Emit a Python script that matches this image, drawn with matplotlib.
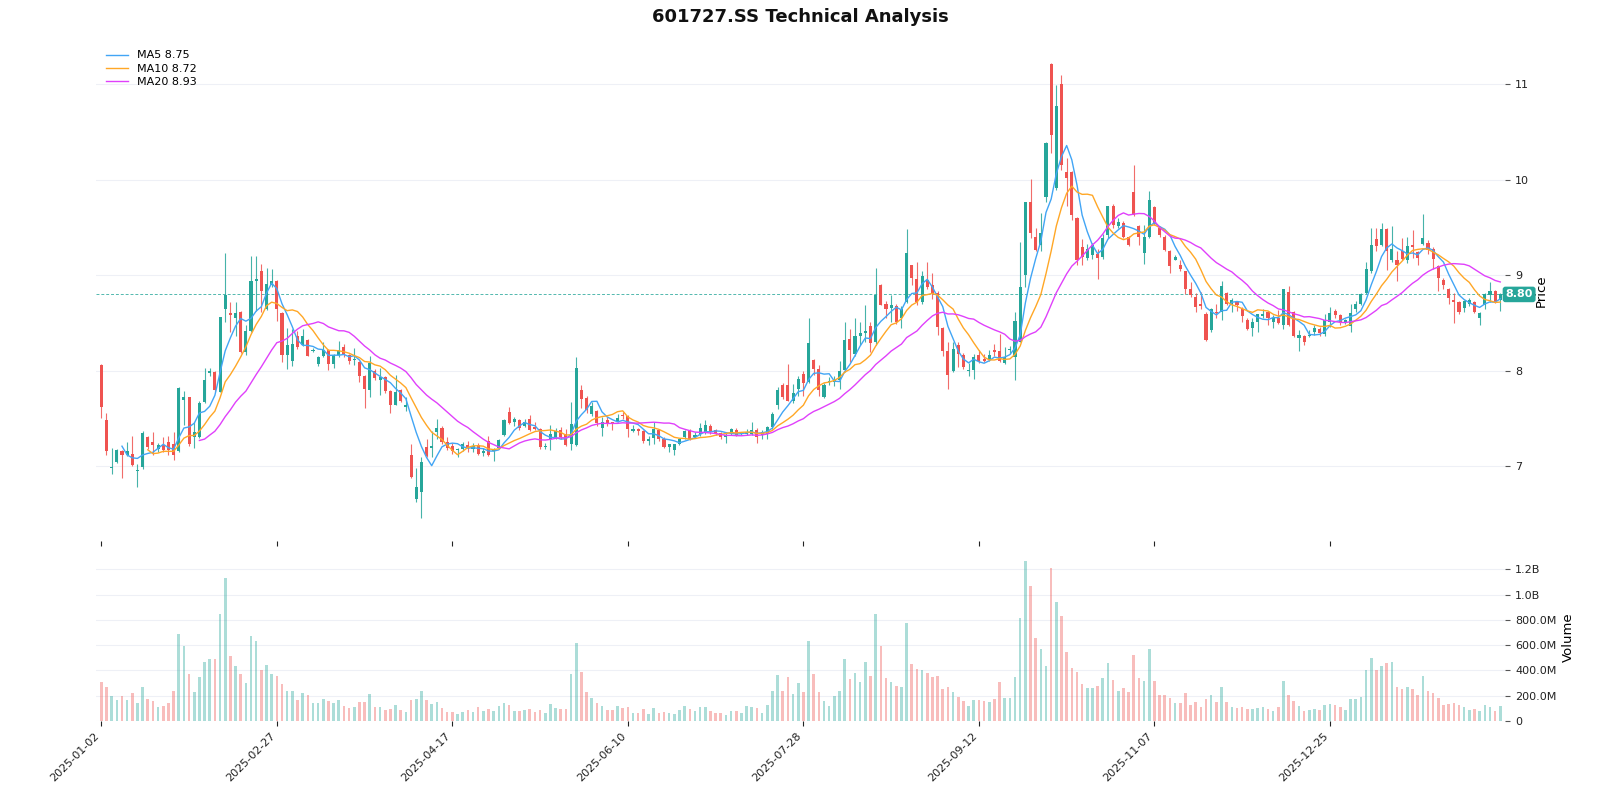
import matplotlib
matplotlib.use("Agg")
import matplotlib.pyplot as plt
import numpy as np
import pandas as pd
from matplotlib.ticker import FuncFormatter

# 601727.SS daily bars (trading days from 2025-01-02)
opens = [
    8.06, 7.49, 6.98, 7.05, 7.16, 7.12, 7.13, 6.95, 6.99, 7.31,
    7.26, 7.18, 7.22, 7.26, 7.24, 7.16, 7.70, 7.73, 7.31, 7.31,
    7.67, 7.98, 7.99, 7.78, 8.65, 8.61, 8.55, 8.62, 8.20, 8.42,
    8.94, 9.04, 8.65, 8.90, 8.94, 8.61, 8.17, 8.10, 8.36, 8.27,
    8.32, 8.21, 8.07, 8.16, 8.22, 8.07, 8.17, 8.25, 8.17, 8.11,
    8.09, 7.95, 7.80, 8.00, 7.90, 7.94, 7.79, 7.64, 7.80, 7.62,
    7.12, 6.66, 6.73, 7.20, 7.19, 7.36, 7.40, 7.26, 7.21, 7.17,
    7.18, 7.22, 7.18, 7.22, 7.14, 7.27, 7.16, 7.19, 7.33, 7.57,
    7.47, 7.49, 7.42, 7.50, 7.41, 7.39, 7.20, 7.29, 7.30, 7.38,
    7.34, 7.23, 7.22, 7.80, 7.72, 7.55, 7.58, 7.40, 7.49, 7.47,
    7.47, 7.54, 7.53, 7.37, 7.39, 7.37, 7.27, 7.30, 7.38, 7.29,
    7.20, 7.17, 7.24, 7.31, 7.38, 7.31, 7.34, 7.36, 7.42, 7.38,
    7.35, 7.31, 7.34, 7.38, 7.34, 7.34, 7.34, 7.38, 7.33, 7.34,
    7.41, 7.64, 7.85, 7.85, 7.68, 7.81, 7.97, 7.88, 8.11, 8.02,
    7.73, 7.88, 7.88, 7.90, 8.01, 8.33, 8.18, 8.37, 8.40, 8.47,
    8.30, 8.90, 8.70, 8.66, 8.68, 8.55, 8.72, 9.11, 8.96, 8.72,
    8.95, 8.90, 8.82, 8.45, 8.21, 8.00, 8.27, 8.17, 8.00, 8.01,
    8.17, 8.12, 8.11, 8.22, 8.21, 8.08, 8.22, 8.15, 8.30, 9.00,
    9.77, 9.40, 9.32, 9.82, 11.21, 9.91, 11.00, 10.08, 10.08, 9.60,
    9.30, 9.18, 9.21, 9.22, 9.19, 9.42, 9.73, 9.52, 9.55, 9.40,
    9.87, 9.52, 9.23, 9.40, 9.71, 9.50, 9.40, 9.25, 9.16, 9.11,
    9.04, 8.86, 8.77, 8.70, 8.59, 8.43, 8.62, 8.62, 8.82, 8.70,
    8.72, 8.65, 8.53, 8.45, 8.51, 8.57, 8.62, 8.51, 8.55, 8.48,
    8.83, 8.62, 8.34, 8.36, 8.36, 8.41, 8.44, 8.39, 8.51, 8.63,
    8.58, 8.51, 8.47, 8.65, 8.70, 8.81, 9.04, 9.38, 9.32, 9.48,
    9.16, 9.16, 9.25, 9.16, 9.32, 9.24, 9.33, 9.34, 9.28, 9.10,
    8.95, 8.86, 8.74, 8.72, 8.66, 8.70, 8.72, 8.55, 8.69, 8.79,
    8.84, 8.74,
]
highs = [
    8.07, 7.56, 7.19, 7.18, 7.17, 7.26, 7.32, 7.03, 7.37, 7.32,
    7.36, 7.25, 7.31, 7.32, 7.36, 7.83, 7.79, 7.73, 7.46, 7.68,
    8.03, 8.03, 8.00, 8.56, 9.23, 8.72, 8.72, 8.63, 8.48, 9.20,
    9.20, 9.12, 9.08, 9.07, 8.95, 8.62, 8.45, 8.44, 8.42, 8.44,
    8.33, 8.24, 8.16, 8.30, 8.23, 8.18, 8.31, 8.28, 8.18, 8.24,
    8.10, 7.96, 8.16, 8.02, 8.03, 7.95, 7.80, 7.96, 7.81, 7.73,
    7.23, 6.98, 7.10, 7.29, 7.37, 7.50, 7.42, 7.31, 7.25, 7.19,
    7.26, 7.27, 7.25, 7.25, 7.19, 7.32, 7.19, 7.29, 7.50, 7.62,
    7.52, 7.50, 7.50, 7.54, 7.47, 7.40, 7.25, 7.43, 7.40, 7.41,
    7.39, 7.67, 8.15, 7.85, 7.74, 7.67, 7.59, 7.52, 7.52, 7.47,
    7.55, 7.57, 7.54, 7.43, 7.40, 7.38, 7.32, 7.46, 7.39, 7.31,
    7.24, 7.24, 7.30, 7.38, 7.39, 7.36, 7.45, 7.49, 7.44, 7.39,
    7.36, 7.36, 7.40, 7.40, 7.36, 7.39, 7.47, 7.40, 7.38, 7.42,
    7.57, 7.83, 7.87, 8.07, 7.86, 7.95, 8.00, 8.55, 8.12, 8.06,
    7.87, 7.94, 7.95, 8.10, 8.51, 8.44, 8.55, 8.51, 8.69, 8.51,
    9.08, 8.91, 8.73, 8.79, 8.70, 8.68, 9.48, 9.11, 9.14, 9.04,
    9.14, 9.02, 8.84, 8.46, 8.30, 8.30, 8.30, 8.19, 8.08, 8.18,
    8.22, 8.18, 8.22, 8.28, 8.39, 8.25, 8.26, 8.62, 9.35, 9.77,
    10.01, 9.49, 9.65, 10.39, 11.22, 10.99, 11.10, 10.23, 10.09, 9.61,
    9.38, 9.33, 9.34, 9.28, 9.43, 9.73, 9.75, 9.60, 9.57, 9.41,
    10.15, 9.53, 9.53, 9.88, 9.72, 9.52, 9.42, 9.26, 9.21, 9.16,
    9.05, 8.93, 8.82, 8.83, 8.62, 8.66, 8.70, 8.94, 8.83, 8.76,
    8.73, 8.67, 8.55, 8.55, 8.60, 8.65, 8.63, 8.58, 8.64, 8.86,
    8.89, 8.63, 8.43, 8.38, 8.43, 8.48, 8.46, 8.59, 8.67, 8.65,
    8.60, 8.54, 8.70, 8.73, 8.81, 9.14, 9.49, 9.49, 9.55, 9.50,
    9.52, 9.25, 9.39, 9.40, 9.47, 9.25, 9.64, 9.37, 9.30, 9.11,
    8.97, 8.87, 8.81, 8.73, 8.74, 8.76, 8.73, 8.62, 8.82, 8.93,
    8.85, 8.81,
]
lows = [
    7.51, 7.12, 6.92, 7.04, 6.88, 7.11, 7.00, 6.79, 6.97, 7.18,
    7.12, 7.15, 7.15, 7.12, 7.07, 7.15, 7.43, 7.21, 7.19, 7.30,
    7.66, 7.95, 7.78, 7.78, 8.51, 8.41, 8.37, 8.19, 8.17, 8.41,
    8.63, 8.62, 8.64, 8.88, 8.52, 8.09, 8.02, 8.05, 8.23, 8.26,
    8.16, 8.20, 8.05, 8.15, 8.01, 8.03, 8.14, 8.15, 8.07, 8.06,
    7.88, 7.61, 7.73, 7.90, 7.75, 7.77, 7.56, 7.64, 7.67, 7.58,
    6.88, 6.63, 6.46, 7.10, 7.10, 7.29, 7.24, 7.17, 7.13, 7.10,
    7.16, 7.15, 7.15, 7.12, 7.11, 7.11, 7.06, 7.18, 7.32, 7.44,
    7.42, 7.38, 7.41, 7.37, 7.38, 7.18, 7.18, 7.17, 7.29, 7.29,
    7.21, 7.17, 7.21, 7.61, 7.56, 7.53, 7.42, 7.32, 7.42, 7.38,
    7.46, 7.50, 7.31, 7.36, 7.33, 7.25, 7.22, 7.24, 7.27, 7.19,
    7.15, 7.12, 7.22, 7.29, 7.28, 7.30, 7.32, 7.34, 7.34, 7.33,
    7.29, 7.25, 7.33, 7.32, 7.33, 7.33, 7.33, 7.25, 7.29, 7.29,
    7.39, 7.60, 7.71, 7.68, 7.66, 7.74, 7.74, 7.87, 7.96, 7.74,
    7.72, 7.85, 7.84, 7.81, 7.99, 8.09, 8.16, 8.27, 8.30, 8.20,
    8.27, 8.69, 8.55, 8.51, 8.49, 8.45, 8.71, 8.90, 8.69, 8.70,
    8.86, 8.75, 8.38, 8.16, 7.81, 7.99, 8.04, 8.02, 7.95, 7.91,
    8.08, 8.09, 8.10, 8.16, 8.09, 8.07, 8.18, 7.90, 8.30, 8.88,
    9.39, 9.25, 9.25, 9.77, 10.28, 9.89, 10.10, 9.72, 9.58, 9.11,
    9.11, 9.16, 9.17, 8.96, 9.17, 9.39, 9.49, 9.49, 9.39, 9.31,
    9.62, 9.32, 9.12, 9.39, 9.53, 9.40, 9.25, 9.02, 9.16, 9.05,
    8.80, 8.77, 8.62, 8.65, 8.31, 8.41, 8.55, 8.53, 8.69, 8.62,
    8.63, 8.51, 8.43, 8.37, 8.41, 8.55, 8.48, 8.45, 8.49, 8.44,
    8.47, 8.35, 8.21, 8.27, 8.35, 8.38, 8.37, 8.36, 8.46, 8.55,
    8.48, 8.49, 8.41, 8.62, 8.69, 8.80, 9.02, 9.25, 9.31, 9.06,
    9.14, 8.94, 9.16, 9.13, 9.18, 9.11, 9.32, 9.22, 9.07, 8.84,
    8.86, 8.70, 8.50, 8.60, 8.62, 8.68, 8.61, 8.48, 8.65, 8.72,
    8.71, 8.63,
]
closes = [
    7.62, 7.16, 6.99, 7.17, 7.12, 7.16, 7.01, 6.96, 7.35, 7.20,
    7.22, 7.22, 7.17, 7.17, 7.12, 7.82, 7.73, 7.23, 7.36, 7.66,
    7.90, 8.00, 7.80, 8.56, 8.79, 8.58, 8.61, 8.20, 8.42, 8.94,
    8.96, 8.84, 8.91, 8.94, 8.65, 8.17, 8.27, 8.28, 8.25, 8.37,
    8.16, 8.22, 8.14, 8.22, 8.07, 8.17, 8.22, 8.18, 8.10, 8.12,
    7.95, 7.81, 8.08, 7.93, 7.94, 7.79, 7.64, 7.78, 7.69, 7.64,
    6.89, 6.78, 7.05, 7.11, 7.21, 7.40, 7.26, 7.19, 7.16, 7.18,
    7.24, 7.19, 7.21, 7.13, 7.16, 7.12, 7.18, 7.28, 7.49, 7.45,
    7.50, 7.40, 7.46, 7.38, 7.39, 7.20, 7.21, 7.34, 7.37, 7.31,
    7.22, 7.44, 8.03, 7.71, 7.59, 7.63, 7.45, 7.47, 7.45, 7.45,
    7.51, 7.53, 7.39, 7.39, 7.37, 7.27, 7.29, 7.39, 7.29, 7.20,
    7.23, 7.23, 7.29, 7.37, 7.29, 7.33, 7.40, 7.43, 7.36, 7.34,
    7.31, 7.33, 7.39, 7.33, 7.35, 7.36, 7.38, 7.31, 7.36, 7.41,
    7.55, 7.80, 7.73, 7.69, 7.77, 7.92, 7.87, 8.29, 8.02, 7.80,
    7.85, 7.89, 7.90, 8.00, 8.32, 8.22, 8.36, 8.40, 8.42, 8.29,
    8.79, 8.69, 8.65, 8.69, 8.51, 8.65, 9.23, 8.97, 8.72, 8.99,
    8.88, 8.82, 8.46, 8.21, 7.96, 8.23, 8.18, 8.04, 8.01, 8.15,
    8.10, 8.10, 8.17, 8.20, 8.10, 8.15, 8.23, 8.52, 8.88, 9.77,
    9.44, 9.26, 9.44, 10.38, 10.47, 10.77, 10.15, 10.02, 9.63, 9.16,
    9.19, 9.28, 9.32, 9.18, 9.39, 9.72, 9.53, 9.56, 9.40, 9.32,
    9.63, 9.40, 9.40, 9.79, 9.54, 9.42, 9.26, 9.10, 9.19, 9.07,
    8.86, 8.79, 8.67, 8.68, 8.32, 8.65, 8.61, 8.89, 8.70, 8.74,
    8.69, 8.57, 8.44, 8.51, 8.59, 8.59, 8.55, 8.55, 8.50, 8.86,
    8.48, 8.37, 8.38, 8.30, 8.38, 8.45, 8.40, 8.53, 8.61, 8.58,
    8.51, 8.53, 8.61, 8.70, 8.80, 9.07, 9.32, 9.31, 9.48, 9.25,
    9.28, 9.11, 9.17, 9.31, 9.30, 9.18, 9.39, 9.26, 9.17, 8.97,
    8.90, 8.76, 8.72, 8.62, 8.73, 8.74, 8.62, 8.61, 8.80, 8.84,
    8.72, 8.80,
]
# volume in millions of shares
volumes_m = [
    311, 271, 194, 167, 194, 167, 223, 143, 271, 175,
    159, 112, 120, 143, 239, 685, 590, 375, 231, 351,
    470, 494, 494, 845, 1131, 518, 438, 375, 303, 669,
    637, 406, 446, 375, 359, 295, 239, 239, 167, 223,
    207, 143, 143, 175, 159, 143, 167, 120, 104, 112,
    151, 151, 215, 112, 112, 88, 96, 127, 88, 72,
    167, 175, 239, 167, 135, 151, 104, 72, 72, 56,
    72, 88, 72, 112, 80, 96, 80, 120, 143, 127,
    80, 80, 88, 96, 72, 88, 64, 135, 104, 96,
    96, 375, 614, 390, 231, 183, 143, 120, 88, 88,
    120, 104, 112, 64, 64, 96, 56, 104, 64, 72,
    64, 56, 88, 120, 96, 80, 112, 112, 80, 64,
    64, 48, 80, 80, 64, 120, 112, 104, 64, 127,
    239, 367, 239, 351, 215, 303, 231, 637, 375, 231,
    159, 120, 199, 239, 494, 335, 382, 311, 470, 359,
    845, 590, 343, 311, 279, 271, 773, 454, 414, 406,
    382, 351, 359, 255, 271, 231, 191, 159, 120, 167,
    167, 159, 151, 175, 311, 183, 183, 351, 813, 1267,
    1068, 653, 566, 438, 1211, 940, 829, 550, 422, 390,
    295, 263, 263, 279, 343, 462, 327, 239, 263, 231,
    526, 343, 319, 566, 319, 207, 207, 183, 143, 143,
    223, 127, 151, 112, 175, 207, 151, 271, 151, 112,
    104, 112, 96, 96, 104, 112, 96, 80, 112, 319,
    207, 159, 120, 80, 88, 96, 88, 127, 135, 127,
    112, 88, 175, 175, 191, 406, 502, 406, 438, 462,
    470, 271, 255, 271, 255, 207, 359, 239, 223, 183,
    127, 135, 143, 127, 112, 88, 96, 80, 127, 112,
    80, 120,
]
tick_labels = ["2025-01-02", "2025-02-27", "2025-04-17", "2025-06-10",
               "2025-07-28", "2025-09-12", "2025-11-07", "2025-12-25"]
TICK_EVERY = 34  # one date label every 34 trading days

UP = "#26a69a"
DOWN = "#ef5350"

df = pd.DataFrame({"open": opens, "high": highs, "low": lows,
                   "close": closes, "volume": np.array(volumes_m) * 1e6})
x = np.arange(len(df))
up = df["close"] >= df["open"]
colors = np.where(up, UP, DOWN)

fig = plt.figure(figsize=(16, 8), dpi=100)
ax = fig.add_axes([0.0601, 0.324, 0.8808, 0.6255])
axv = fig.add_axes([0.0601, 0.0988, 0.8808, 0.21], sharex=ax)

# candles
ax.vlines(x, df["low"], df["high"], colors=colors, linewidth=0.8, alpha=0.85, zorder=2)
body = (df["close"] - df["open"]).abs().clip(lower=0.008)
ax.bar(x, body, bottom=df[["open", "close"]].min(axis=1), width=0.6,
       color=colors, linewidth=0, zorder=3)

# moving averages
ma_colors = {5: "#42a5f5", 10: "#ffa726", 20: "#e040fb"}
for n, c in ma_colors.items():
    ma = df["close"].rolling(n).mean()
    ax.plot(x, ma, color=c, linewidth=1.0, label=f"MA{n} {ma.iloc[-1]:.2f}", zorder=4)

# last price line + tag
last = df["close"].iloc[-1]
ax.axhline(last, color=UP, linewidth=0.7, linestyle=(0, (3, 2)), alpha=0.8, zorder=1)
ax.text(1.0, last, f"{last:.2f}", transform=ax.get_yaxis_transform(),
        ha="left", va="center", color="white", fontsize=8, fontweight="bold",
        bbox=dict(boxstyle="round,pad=0.25", fc=UP, ec="none"), zorder=5, clip_on=False)

rng = df["high"].max() - df["low"].min()
ax.set_ylim(df["low"].min() - 0.05 * rng, df["high"].max() + 0.05 * rng)
ax.set_xlim(-1, len(df))

# volume
axv.bar(x, df["volume"], width=0.5, color=colors, alpha=0.38, linewidth=0)
axv.set_ylim(0, df["volume"].max() * 1.05)

def vol_fmt(v, pos):
    if v >= 1e9:
        return f"{v / 1e9:.1f}B"
    if v >= 1e6:
        return f"{v / 1e6:.1f}M"
    return "0"

axv.yaxis.set_major_formatter(FuncFormatter(vol_fmt))

for a in (ax, axv):
    for s in a.spines.values():
        s.set_visible(False)
    a.yaxis.tick_right()
    a.yaxis.set_label_position("right")
    a.grid(axis="y", color="#eef0f6", linewidth=0.8)
    a.set_axisbelow(True)
    a.tick_params(axis="y", colors="#555555", labelcolor="#222222", labelsize=8)
    a.tick_params(axis="x", colors="#222222", labelsize=8)

ax.set_xticks(np.arange(len(tick_labels)) * TICK_EVERY)
ax.tick_params(axis="x", labelbottom=False)
axv.set_xticklabels(tick_labels, rotation=45, ha="right")

ax.set_ylabel("Price", fontsize=9.5)
axv.set_ylabel("Volume", fontsize=9.5)

ax.legend(loc="upper left", frameon=False, fontsize=8, labelspacing=0.3)
fig.text(0.5, 1 - 17 / 800, "601727.SS Technical Analysis", ha="center", va="center",
         fontsize=13, fontweight="bold", color="#111111")

plt.savefig("out.png", dpi=100)
